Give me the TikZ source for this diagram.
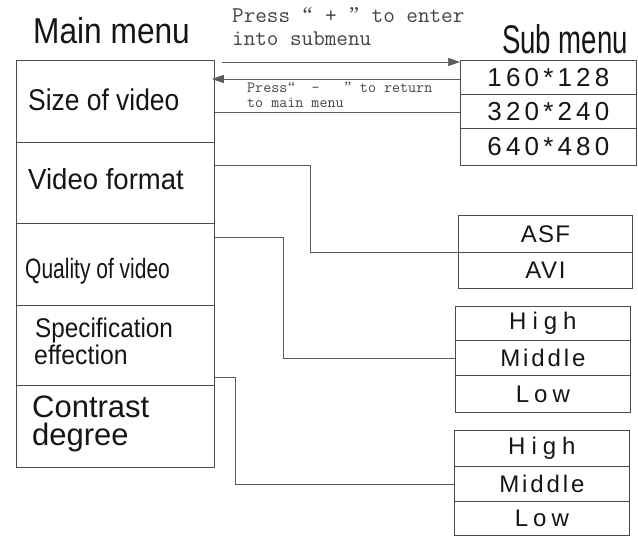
\documentclass[tikz,border=0pt]{standalone}
\usepackage{fontspec}
\setmainfont{Liberation Sans}
\newfontfamily\subfont{Liberation Sans}
\newfontfamily\qfont{Liberation Serif}
\usetikzlibrary{arrows.meta}
\newcommand\sxtext[3]{\scalebox{#1}[1]{\fontsize{#2}{#2}\selectfont #3}}
\newcommand\lsp[3]{{\subfont\addfontfeature{LetterSpace=#1}\fontsize{#2}{#2}\selectfont #3}}
\newcommand\myopq{\makebox[0.525em]{\qfont “}}
\newcommand\myclq{\makebox[0.525em]{\qfont ”}}
\definecolor{boxc}{HTML}{4A4A4A}
\definecolor{linec}{HTML}{5A5A5A}
\definecolor{txtc}{HTML}{151515}
\begin{document}
\begin{tikzpicture}[x=1pt,y=-1pt,
  mbox/.style={draw=boxc, line width=0.8pt, minimum width=198pt, inner sep=0pt, anchor=north west},
  sbox/.style={draw=boxc, line width=0.8pt, inner sep=0pt, anchor=north west, text=txtc},
  lbl/.style={anchor=base west, inner sep=0pt, text=txtc},
  conn/.style={draw=linec, line width=0.7pt},
  tip/.style={-{Triangle[length=12pt,width=8pt]}},
  press/.style={anchor=base west, inner sep=0pt, text=txtc!80}]
\useasboundingbox (0,0) rectangle (638,536);
% titles
\node[lbl] (tmain) at (33,43) {\sxtext{0.88}{36}{Main menu}};
\node[lbl] (tsub) at (502,53) {\sxtext{0.69}{40}{Sub menu}};
% main menu boxes
\node[mbox, minimum height=82pt] (size) at (16,60) {};
\node[mbox, minimum height=81pt] (fmt) at (16,142) {};
\node[mbox, minimum height=82pt] (qual) at (16,223) {};
\node[mbox, minimum height=80pt] (spec) at (16,305) {};
\node[mbox, minimum height=82pt] (contr) at (16,385) {};
\node[lbl] (tsize) at (28,110) {\sxtext{0.88}{30}{Size of video}};
\node[lbl] (tfmt) at (28,189) {\sxtext{0.95}{29}{Video format}};
\node[lbl] (tqual) at (25,278) {\sxtext{0.75}{28}{Quality of video}};
\node[lbl] (tspec1) at (35,337) {\sxtext{0.9}{27}{Specification}};
\node[lbl] (tspec2) at (34,364) {\sxtext{0.92}{27}{effection}};
\node[lbl] (tcon1) at (32,417) {\sxtext{1}{31}{Contrast}};
\node[lbl] (tcon2) at (32,445) {\sxtext{1}{31}{degree}};
% sub menu boxes
\node[sbox, minimum width=176pt, minimum height=34pt] (s1) at (460,60) {\lsp{16}{26}{160*128}};
\node[sbox, minimum width=176pt, minimum height=34pt] (s2) at (460,94) {\lsp{16}{26}{320*240}};
\node[sbox, minimum width=176pt, minimum height=37pt] (s3) at (460,128) {\lsp{16}{26}{640*480}};
\node[sbox, minimum width=174pt, minimum height=37pt] (asf) at (458,215) {\lsp{5}{24}{ASF}};
\node[sbox, minimum width=174pt, minimum height=36pt] (avi) at (458,252) {\lsp{7}{24}{AVI}};
\node[sbox, minimum width=175pt, minimum height=34pt] (qh) at (455,306) {\lsp{25}{24}{High}};
\node[sbox, minimum width=175pt, minimum height=35pt] (qm) at (455,340) {\lsp{12}{24}{Middle}};
\node[sbox, minimum width=175pt, minimum height=37pt] (ql) at (455,375) {\lsp{21}{24}{Low}};
\node[sbox, minimum width=175pt, minimum height=36pt] (ch) at (454,430) {\lsp{25}{24}{High}};
\node[sbox, minimum width=175pt, minimum height=35pt] (cm) at (454,466) {\lsp{12}{24}{Middle}};
\node[sbox, minimum width=175pt, minimum height=34pt] (cl) at (454,501) {\lsp{21}{24}{Low}};
% press texts
\node[press, font=\ttfamily\fontsize{22.5}{22.5}\selectfont] (p1) at (232,22) {Press \myopq{} + \myclq{} to enter};
\node[press, font=\ttfamily\fontsize{22.5}{22.5}\selectfont] (p2) at (232,45) {into submenu};
\node[press, font=\ttfamily\fontsize{15.6}{15.6}\selectfont] (r1) at (247,92) {Press\myopq~~-~~~\myclq{} to return};
\node[press, font=\ttfamily\fontsize{15.6}{15.6}\selectfont] (r2) at (247,107) {to main menu};
% arrows and connectors
\draw[conn, tip, shorten <=7pt] (size.east |- 0,62) -- (s1.west |- 0,62);
\draw[conn, tip, shorten >=-3pt] (s1.west |- 0,79) -- (size.east |- 0,79);
\draw[conn] (size.east |- 0,112) -- (s2.west |- 0,112);
\draw[conn] (fmt.east |- 0,165) -- (310,165) |- (asf.south west);
\draw[conn] (qual.east |- 0,237) -- (283,237) |- (qm.west);
\draw[conn] (spec.east |- 0,377) -- (235,377) |- (cm.west);
\end{tikzpicture}
\end{document}
